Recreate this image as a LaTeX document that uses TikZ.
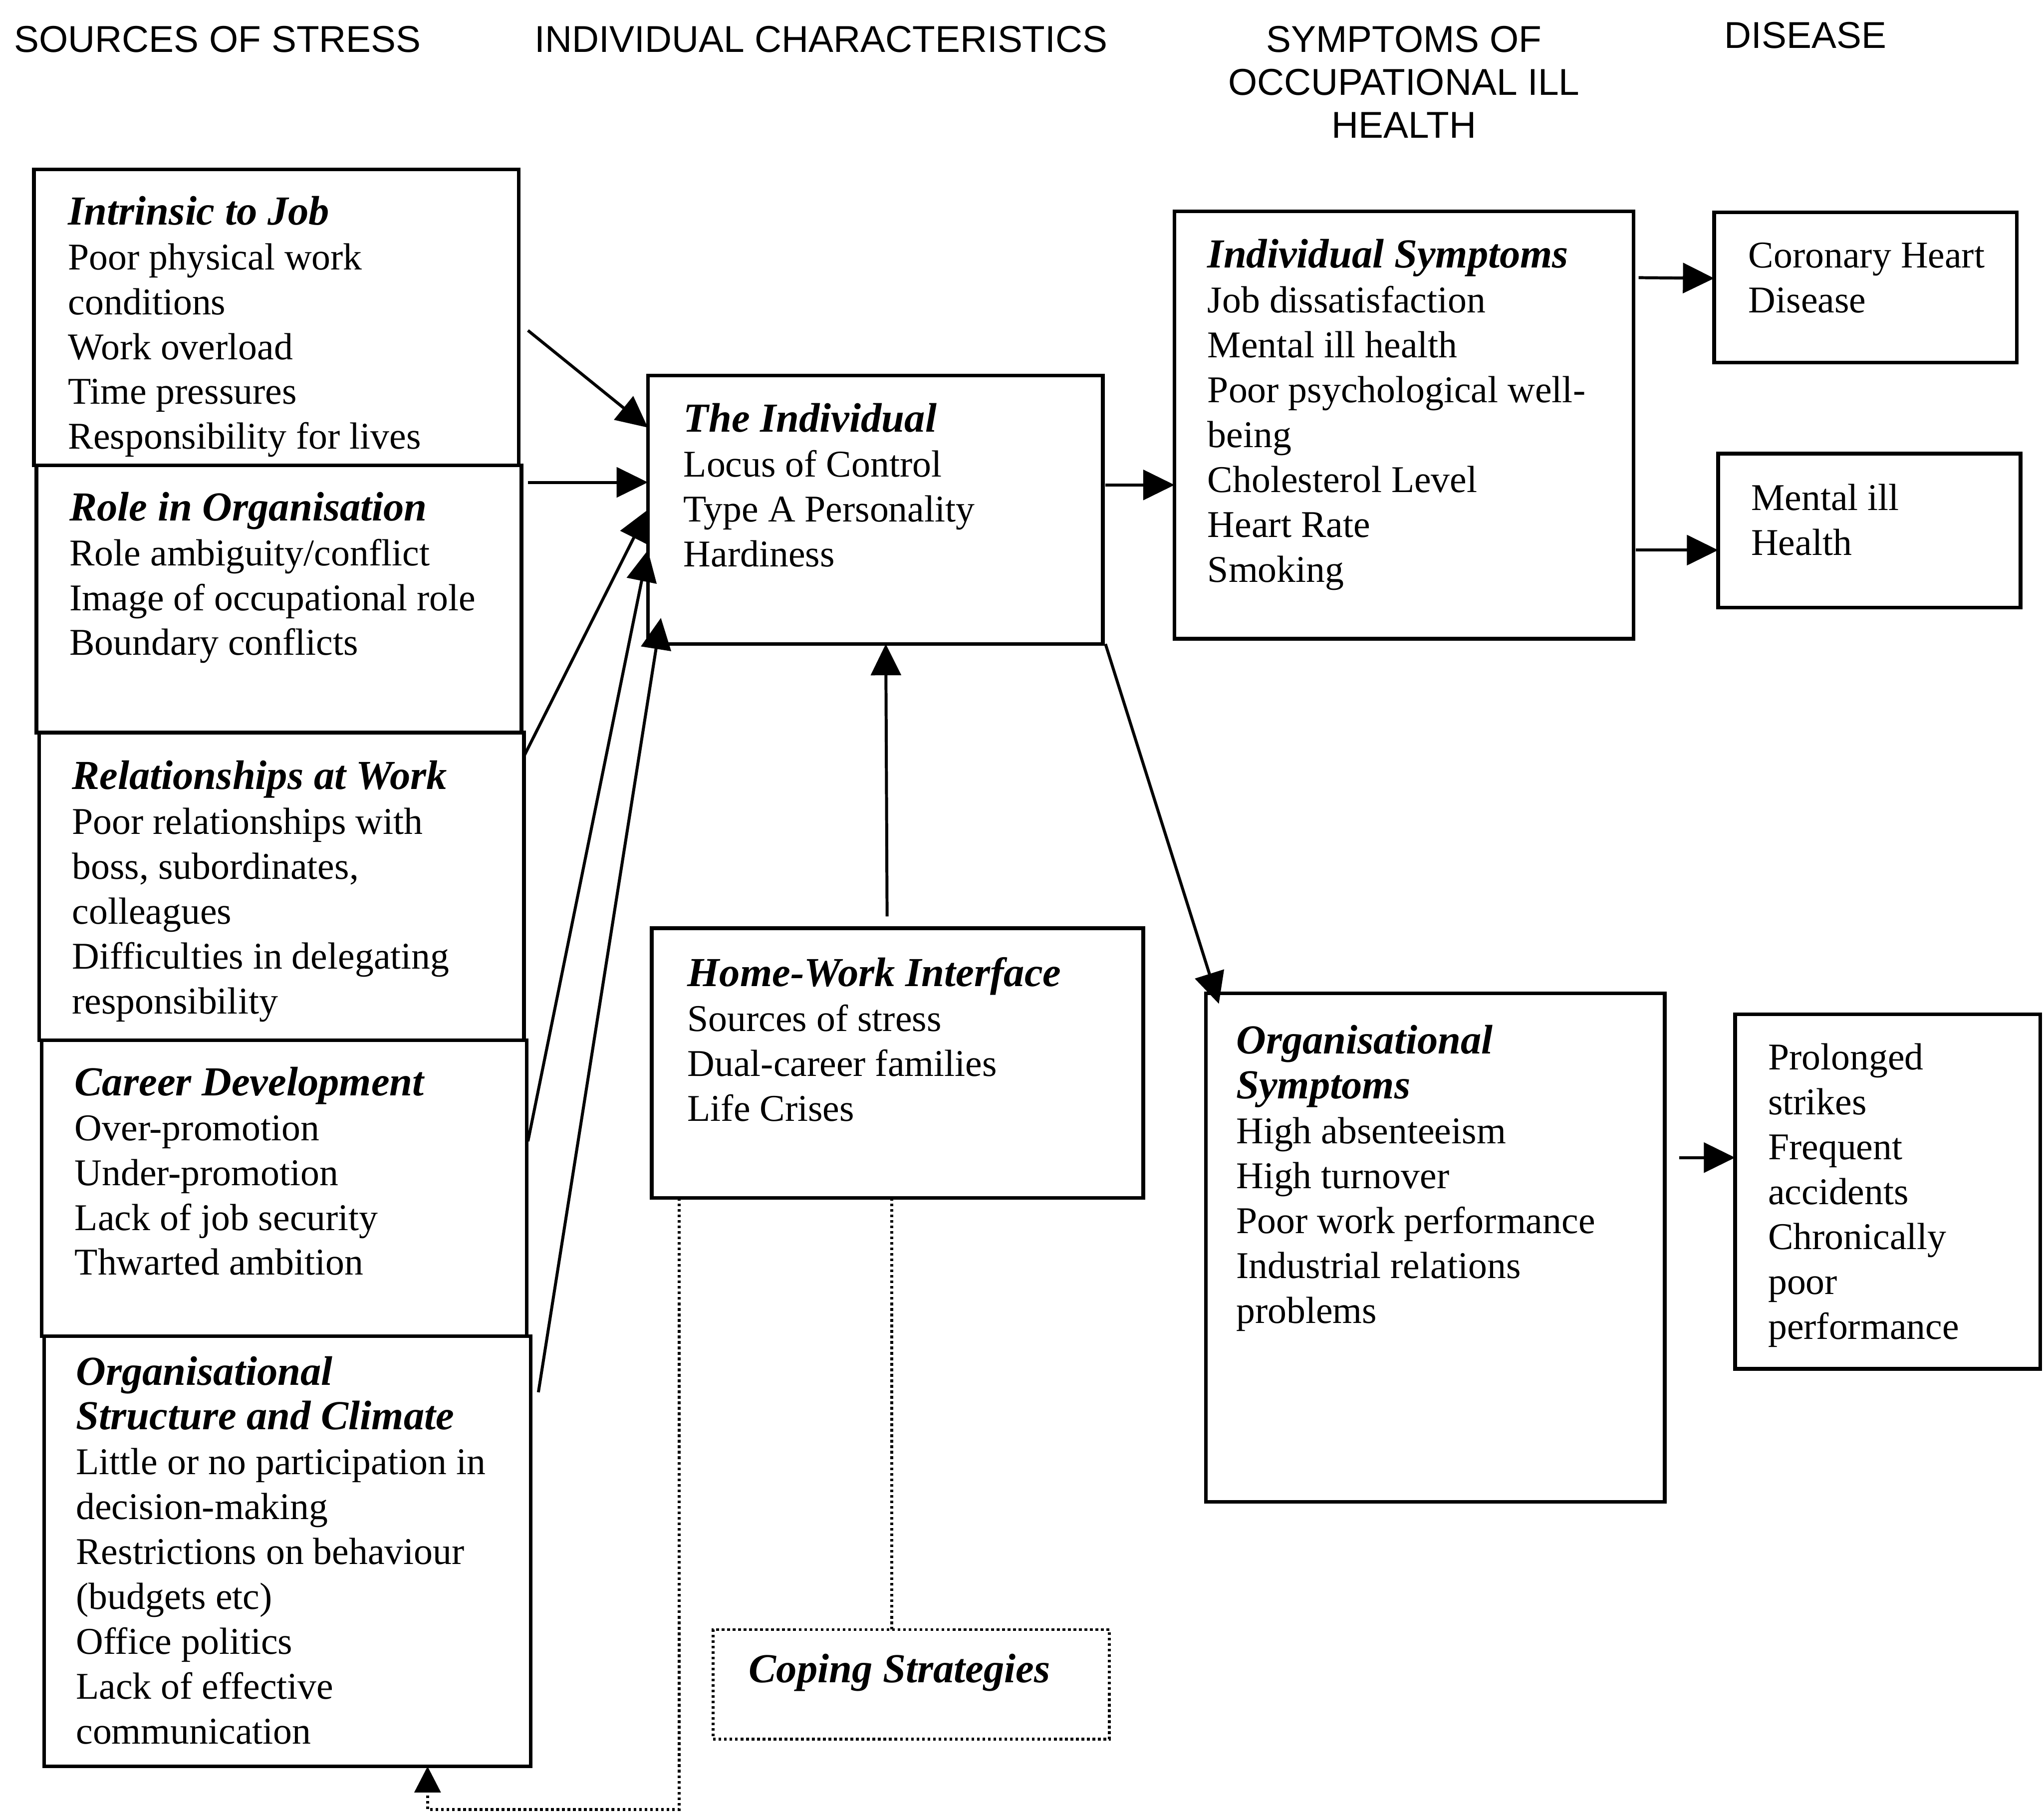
\documentclass[tikz,border=0pt]{standalone}
\usepackage{fontspec}
\setmainfont{Liberation Serif}
\setsansfont{Liberation Sans}
\usetikzlibrary{arrows.meta,calc}

\newcommand\ttl[1]{{\fontsize{18}{19.6}\selectfont\bfseries\itshape #1}}

\begin{document}
\begin{tikzpicture}[
  x=0.2mm, y=-0.2mm,
  font=\fontsize{16.5}{19.6}\selectfont,
  >={Triangle[length=0.48cm,width=0.46cm]},
  box/.style={draw, line width=1.6pt, inner sep=0pt, outer sep=0pt},
  wh/.style 2 args={minimum width=#1*0.2mm, minimum height=#2*0.2mm},
  txt/.style={anchor=north west, align=left, inner sep=0pt},
  head/.style={font=\sffamily\fontsize{16.3}{18.8}\selectfont, align=center},
  arr/.style={->, line width=1.3pt},
  dots/.style={line width=1.2pt, dash pattern=on 1.2pt off 1.2pt}
]
\useasboundingbox (0,0) rectangle (1568,1392);

% column headings
\node[head] (hsrc) at (167,30) {SOURCES OF STRESS};
\node[head] (hchar) at (630,30) {INDIVIDUAL CHARACTERISTICS};
\node[head] (hsym) at (1077,63) {SYMPTOMS OF\\OCCUPATIONAL ILL\\HEALTH};
\node[head] (hdis) at (1385,27) {DISEASE};

% sources of stress
\node[box, wh={372}{227}] (job) at (212,243.5) {};
\node[txt] (jobt) at (52,150) {\ttl{Intrinsic to Job}\\Poor physical work\\conditions\\Work overload\\Time pressures\\Responsibility for lives};
\node[box, wh={372}{205}] (role) at (214,459.5) {};
\node[txt] (rolet) at (53,377) {\ttl{Role in Organisation}\\Role ambiguity/conflict\\Image of occupational role\\Boundary conflicts};
\node[box, wh={372}{236}] (rel) at (216,680) {};
\node[txt] (relt) at (55,583) {\ttl{Relationships at Work}\\Poor relationships with\\boss, subordinates,\\colleagues\\Difficulties in delegating\\responsibility};
\node[box, wh={372}{227}] (career) at (218,911.5) {};
\node[txt] (careert) at (57,818) {\ttl{Career Development}\\Over-promotion\\Under-promotion\\Lack of job security\\Thwarted ambition};
\node[box, wh={373}{330}] (orgstruct) at (220.5,1190) {};
\node[txt] (orgstructt) at (58,1040) {\ttl{Organisational}\\\ttl{Structure and Climate}\\Little or no participation in\\decision-making\\Restrictions on behaviour\\(budgets etc)\\Office politics\\Lack of effective\\communication};

% individual characteristics
\node[box, wh={349}{206}] (ind) at (671.5,391) {};
\node[txt] (indt) at (524,309) {\ttl{The Individual}\\Locus of Control\\Type A Personality\\Hardiness};
\node[box, wh={377}{207}] (hw) at (688.5,815.5) {};
\node[txt] (hwt) at (527,734) {\ttl{Home-Work Interface}\\Sources of stress\\Dual-career families\\Life Crises};
\node[box, dots, wh={304}{84}] (cop) at (699,1292) {};
\node (copt) at (690,1283) {\ttl{Coping Strategies}};

% symptoms
\node[box, wh={352}{328}] (indsym) at (1077,326) {};
\node[txt] (indsymt) at (926,183) {\ttl{Individual Symptoms}\\Job dissatisfaction\\Mental ill health\\Poor psychological well-\\being\\Cholesterol Level\\Heart Rate\\Smoking};
\node[box, wh={352}{390}] (orgsym) at (1101,957) {};
\node[txt] (orgsymt) at (948,786) {\ttl{Organisational}\\\ttl{Symptoms}\\High absenteeism\\High turnover\\Poor work performance\\Industrial relations\\problems};

% disease
\node[box, wh={232}{115}] (cor) at (1431,220.5) {};
\node[txt] (cort) at (1341,186) {Coronary Heart\\Disease};
\node[box, wh={232}{118}] (ment) at (1434,407) {};
\node[txt] (mentt) at (1343,371) {Mental ill\\Health};
\node[box, wh={234}{272}] (pro) at (1448,914) {};
\node[txt] (prot) at (1356,800) {Prolonged\\strikes\\Frequent\\accidents\\Chronically\\poor\\performance};

% connectors
\draw[arr] ($(job.east)+(7,10)$) -- ($(ind.north west)+(0,40)$);
\draw[arr] ($(role.north east)+(5,13)$) -- ($(ind.north west)+(0,82)$);
\draw[arr] ($(rel.north east)+(0,18)$) -- ($(ind.north west)+(0,103)$);
\draw[arr] ($(career.east)+(1,-36)$) -- ($(ind.north west)+(0,134)$);
\draw[arr] ($(orgstruct.north east)+(6,43)$) -- ($(ind.south west)+(10,-20)$);
\draw[arr] ($(hw.north)+(-8,-9)$) -- ($(ind.south)+(8,0)$);
\draw[arr] ($(ind.east)+(2,-19)$) -- ($(indsym.west)+(0,46)$);
\draw[arr] ($(ind.south east)+(2,0)$) -- ($(orgsym.north west)+(10,8)$);
\draw[arr] ($(indsym.north east)+(4,51)$) -- ($(cor.west)+(0,-7)$);
\draw[arr] ($(indsym.north east)+(2,260)$) -- ($(ment.west)+(0,15)$);
\draw[arr] ($(orgsym.east)+(11,-69)$) -- ($(pro.west)+(0,-26)$);

% coping links
\draw[dots] ($(hw.south west)+(184,0)$) -- ($(cop.north)+(-15,0)$);
\draw[dots, -{Triangle[length=0.4cm,width=0.4cm, sep=0pt]}] ($(hw.south west)+(21,0)$) |- ($(orgstruct.south west)+(294,33)$) -- ($(orgstruct.south west)+(294,0)$);
\end{tikzpicture}
\end{document}
